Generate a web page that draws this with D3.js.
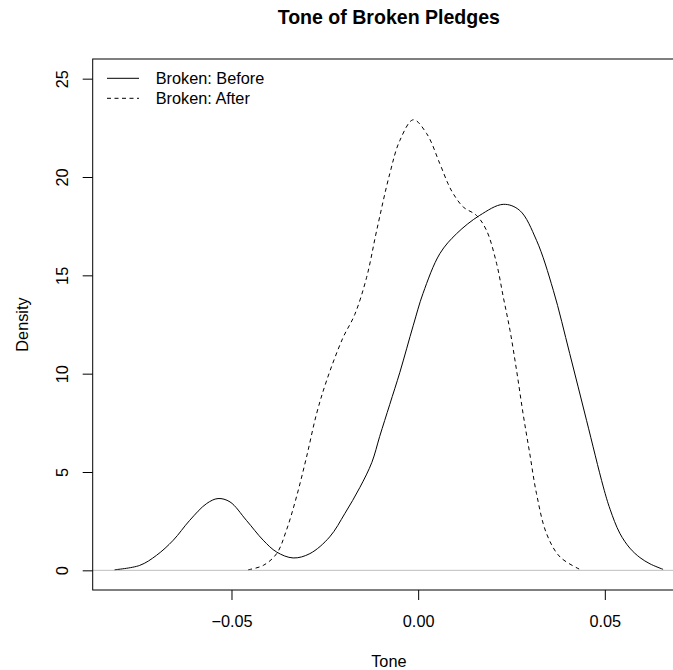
<!DOCTYPE html>
<html>
<head>
<meta charset="utf-8">
<script src="https://cdn.jsdelivr.net/npm/d3@7"></script>
<style>
  html, body { margin: 0; padding: 0; background: #fff; }
  svg { display: block; }
  text { font-family: "Liberation Sans", Arial, Helvetica, sans-serif; fill: #000; }
</style>
</head>
<body>
<svg id="chart" width="673" height="670"></svg>
<script>
// Kernel density estimates of pledge tone, before and after
const beforeTone = [-0.0813, -0.0746, -0.0701, -0.0656, -0.0612, -0.0567, -0.0536, -0.0504, -0.0460, -0.0415,
  -0.0379, -0.0335, -0.0290, -0.0237, -0.0196, -0.0156, -0.0124, -0.0103, -0.0076, -0.0049,
  -0.0013, 0.0013, 0.0058, 0.0103, 0.0165, 0.0228, 0.0272, 0.0317, 0.0362, 0.0406,
  0.0451, 0.0496, 0.0514, 0.0540, 0.0567, 0.0594, 0.0621, 0.0656];
const beforeDensity = [0.03, 0.25, 0.76, 1.53, 2.54, 3.39, 3.65, 3.48, 2.54, 1.53,
  0.93, 0.63, 0.85, 1.70, 2.90, 4.22, 5.49, 6.81, 8.44, 10.07,
  12.46, 14.08, 16.10, 17.12, 18.05, 18.61, 18.30, 16.78, 14.24, 11.02,
  7.63, 4.24, 3.11, 1.89, 1.13, 0.65, 0.33, 0.05];

const afterTone = [-0.0455, -0.0415, -0.0379, -0.0353, -0.0326, -0.0299, -0.0272, -0.0245, -0.0202, -0.0170,
  -0.0138, -0.0111, -0.0076, -0.0049, -0.0013, 0.0023, 0.0058, 0.0080, 0.0094, 0.0121,
  0.0156, 0.0183, 0.0210, 0.0228, 0.0246, 0.0264, 0.0281, 0.0299, 0.0317, 0.0344,
  0.0380, 0.0433];
const afterDensity = [0.03, 0.25, 0.85, 2.03, 3.73, 5.76, 7.97, 9.66, 11.8, 13.0,
  14.9, 17.29, 20.17, 21.86, 22.91, 22.20, 20.68, 19.66, 19.15, 18.47,
  18.05, 17.29, 15.61, 13.90, 12.20, 10.12, 7.97, 5.93, 3.90, 1.86,
  0.68, 0.05];

const xTicks = [-0.05, 0, 0.05];
const xTickLabels = ["\u22120.05", "0.00", "0.05"];
const yTicks = [0, 5, 10, 15, 20, 25];
const yLimits = [0, 25];

const seriesNames = ["Broken: Before", "Broken: After"];

const svg = d3.select("#chart");

// plot region (right edge lies beyond the visible canvas)
const plot = { left: 92.7, right: 685, top: 59, bottom: 590 };

// axis limits extended by 4% on each side
const xExt = d3.extent(beforeTone);
const xPad = 0.04 * (xExt[1] - xExt[0]);
const yPad = 0.04 * (yLimits[1] - yLimits[0]);

const x = d3.scaleLinear()
  .domain([xExt[0] - xPad, xExt[1] + xPad])
  .range([plot.left, plot.right]);
const y = d3.scaleLinear()
  .domain([yLimits[0] - yPad, yLimits[1] + yPad])
  .range([plot.bottom, plot.top]);

const fs = 16.3;

// title
svg.append("text")
  .attr("x", (plot.left + plot.right) / 2)
  .attr("y", 23.5)
  .attr("text-anchor", "middle")
  .style("font-size", (fs * 1.2) + "px")
  .style("font-weight", "bold")
  .text("Tone of Broken Pledges");

// zero reference line
svg.append("line")
  .attr("x1", plot.left).attr("x2", plot.right)
  .attr("y1", y(0)).attr("y2", y(0))
  .attr("stroke", "#bebebe").attr("stroke-width", 1);

// density curves
const line = d3.line()
  .x(d => x(d[0]))
  .y(d => y(Math.max(0, d[1])))
  .curve(d3.curveCatmullRom.alpha(0.5));

svg.append("path")
  .datum(d3.zip(beforeTone, beforeDensity))
  .attr("d", line)
  .attr("fill", "none")
  .attr("stroke", "#000")
  .attr("stroke-width", 1);

svg.append("path")
  .datum(d3.zip(afterTone, afterDensity))
  .attr("d", line)
  .attr("fill", "none")
  .attr("stroke", "#000")
  .attr("stroke-width", 1)
  .attr("stroke-dasharray", "4,3.5");

// frame
svg.append("rect")
  .attr("x", plot.left).attr("y", plot.top)
  .attr("width", plot.right - plot.left)
  .attr("height", plot.bottom - plot.top)
  .attr("fill", "none")
  .attr("stroke", "#000")
  .attr("stroke-width", 1);

// x axis
const xAxis = d3.axisBottom(x)
  .tickValues(xTicks)
  .tickSize(10)
  .tickPadding(0)
  .tickFormat((d, i) => xTickLabels[i]);
const gx = svg.append("g")
  .attr("transform", `translate(0,${plot.bottom})`)
  .call(xAxis);
gx.select(".domain").remove();
gx.selectAll(".tick line").attr("stroke", "#000");
gx.selectAll(".tick text")
  .attr("y", 37)
  .attr("dy", null)
  .style("font-size", fs + "px")
  .style("font-family", "'Liberation Sans', Arial, Helvetica, sans-serif")
  .attr("fill", "#000");

// y axis
const yAxis = d3.axisLeft(y)
  .tickValues(yTicks)
  .tickSize(10)
  .tickFormat(d3.format("d"));
const gy = svg.append("g")
  .attr("transform", `translate(${plot.left},0)`)
  .call(yAxis);
gy.select(".domain").remove();
gy.selectAll(".tick line").attr("stroke", "#000");
gy.selectAll(".tick text")
  .attr("x", null)
  .attr("dy", null)
  .attr("transform", "translate(-25.2,0) rotate(-90)")
  .attr("text-anchor", "middle")
  .style("font-size", fs + "px")
  .style("font-family", "'Liberation Sans', Arial, Helvetica, sans-serif")
  .attr("fill", "#000");

// axis titles
svg.append("text")
  .attr("x", (plot.left + plot.right) / 2)
  .attr("y", 667)
  .attr("text-anchor", "middle")
  .style("font-size", fs + "px")
  .text("Tone");

svg.append("text")
  .attr("transform", `translate(27.5,${(plot.top + plot.bottom) / 2}) rotate(-90)`)
  .attr("text-anchor", "middle")
  .style("font-size", fs + "px")
  .text("Density");

// legend
const legend = svg.append("g");
seriesNames.forEach((name, i) => {
  const ly = 78.3 + i * 20;
  legend.append("line")
    .attr("x1", 107).attr("x2", 139)
    .attr("y1", ly).attr("y2", ly)
    .attr("stroke", "#000").attr("stroke-width", 1)
    .attr("stroke-dasharray", i === 1 ? "4,3.5" : null);
  legend.append("text")
    .attr("x", 155.7)
    .attr("y", ly + 5.8)
    .style("font-size", fs + "px")
    .text(name);
});
</script>
</body>
</html>
